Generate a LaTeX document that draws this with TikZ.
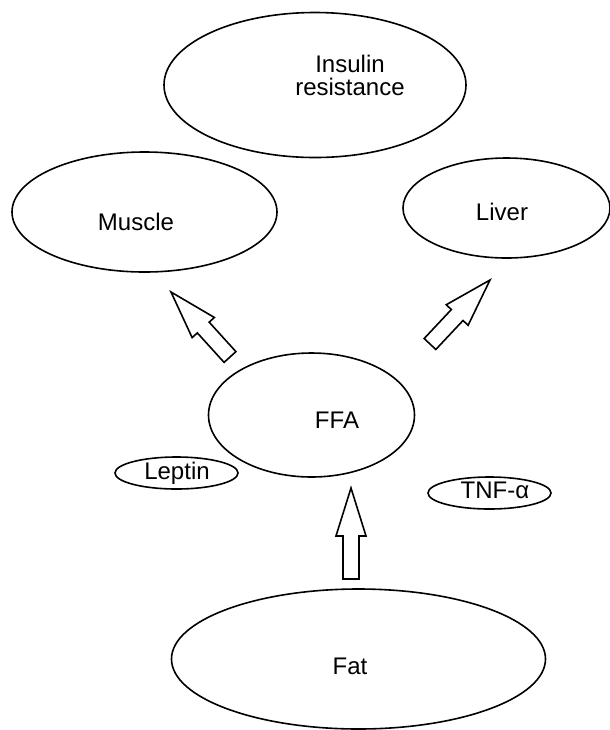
\documentclass[tikz,border=0pt]{standalone}
\usepackage{fontspec}
\setmainfont{Liberation Sans}
\usepackage{tikz}
\usetikzlibrary{calc,shapes.geometric}

\tikzset{
  blob/.style={draw,thick,ellipse,inner sep=0pt},
  tag/.style={inner sep=0pt,align=center,
    font=\fontsize{12}{11.5}\selectfont},
  fatarrow/.style={draw,thick,fill=white,line join=miter}
}

% hollow block arrow from tail coordinate #1 to tip coordinate #2
\newcommand{\blockarrow}[2]{%
  \draw[fatarrow] ($(#1)!4pt!-90:(#2)$)
    -- ($($(#2)!24pt!(#1)$)!4pt!-90:(#2)$)
    -- ($($(#2)!24pt!(#1)$)!7.5pt!-90:(#2)$)
    -- (#2)
    -- ($($(#2)!24pt!(#1)$)!7.5pt!90:(#2)$)
    -- ($($(#2)!24pt!(#1)$)!4pt!90:(#2)$)
    -- ($(#1)!4pt!90:(#2)$) -- cycle;}

\begin{document}
\begin{tikzpicture}[x=0.5pt,y=-0.5pt]
\useasboundingbox (0,0) rectangle (610,730);

% Organs and outcome
\node[blob,minimum width=151pt,minimum height=72.5pt] (insulin) at (315,85) {};
\node[tag] (insulin-t) at (350,75) {Insulin\\resistance};
\node[blob,minimum width=132.5pt,minimum height=60pt] (muscle) at (144.5,212) {};
\node[tag] (muscle-t) at (136,222) {Muscle};
\node[blob,minimum width=103.5pt,minimum height=50pt] (liver) at (506.5,208) {};
\node[tag] (liver-t) at (502,212) {Liver};

% Middle
\node[blob,minimum width=103pt,minimum height=62pt] (ffa) at (311.5,415) {};
\node[tag] (ffa-t) at (337,420) {FFA};
\node[blob,minimum width=61.5pt,minimum height=16pt] (leptin) at (176.5,473) {};
\node[tag] (leptin-t) at (177,473) {Leptin};
\node[blob,minimum width=61.5pt,minimum height=16pt] (tnf) at (489.5,493) {};
\node[tag] (tnf-t) at (495,490) {TNF-α};

% Source
\node[blob,minimum width=187pt,minimum height=70pt] (fat) at (358.5,659) {};
\node[tag] (fat-t) at (350,666) {Fat};

% Arrows
\coordinate (mtail) at (230,357);
\coordinate (mtip) at (171,292);
\coordinate (ltail) at (430,344);
\coordinate (ltip) at (490,280);
\coordinate (ftail) at (351,579);
\coordinate (ftip) at (351,488);
\blockarrow{mtail}{mtip}
\blockarrow{ltail}{ltip}
\blockarrow{ftail}{ftip}
\end{tikzpicture}
\end{document}
